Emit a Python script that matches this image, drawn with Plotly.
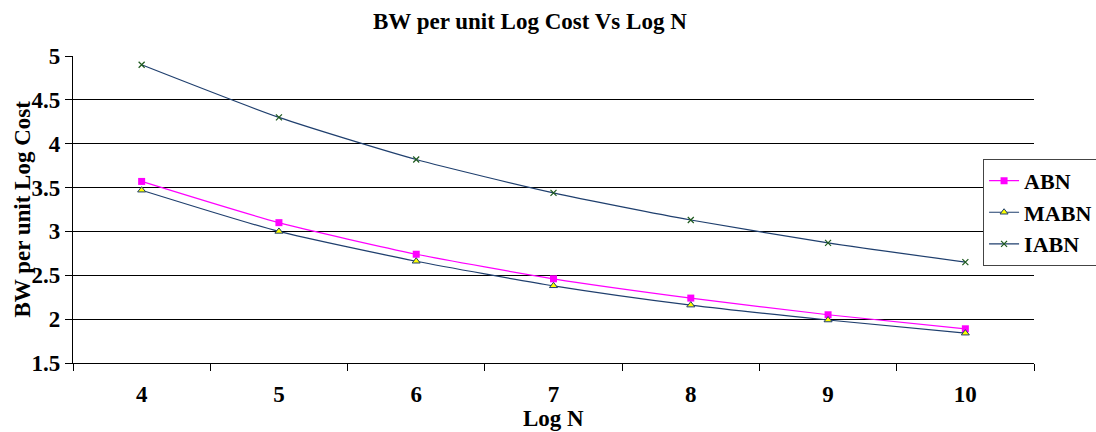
import plotly.graph_objects as go

log_n = [4, 5, 6, 7, 8, 9, 10]
abn = [3.57, 3.10, 2.74, 2.46, 2.24, 2.05, 1.89]
mabn = [3.47, 3.00, 2.66, 2.38, 2.16, 1.99, 1.84]
iabn = [4.90, 4.30, 3.82, 3.44, 3.13, 2.87, 2.65]
y_ticks = [1.5, 2, 2.5, 3, 3.5, 4, 4.5, 5]
y_tick_text = ["1.5", "2", "2.5", "3", "3.5", "4", "4.5", "5"]

FONT = "Liberation Serif, Times New Roman, serif"
NAVY = "#1F3F6E"
FS = 23

fig = go.Figure()
fig.add_trace(go.Scatter(
    x=log_n, y=abn, name="ABN", mode="lines+markers",
    line=dict(color="#FF00FF", width=1.2, shape="spline", smoothing=0.6),
    marker=dict(symbol="square", size=7, color="#FF00FF"),
))
fig.add_trace(go.Scatter(
    x=log_n, y=mabn, name="MABN", mode="lines+markers",
    line=dict(color=NAVY, width=1.2, shape="spline", smoothing=0.6),
    marker=dict(symbol="triangle-up", size=7, color="#FFFF00",
                line=dict(color=NAVY, width=1)),
))
fig.add_trace(go.Scatter(
    x=log_n, y=iabn, name="IABN", mode="lines+markers",
    line=dict(color=NAVY, width=1.2, shape="spline", smoothing=0.6),
    marker=dict(symbol="x-thin", size=6, color="#1E5A1E",
                line=dict(color="#1E5A1E", width=1.2)),
))

fig.update_layout(
    width=1096, height=432,
    margin=dict(l=73, r=62, t=56, b=69, autoexpand=False),
    paper_bgcolor="white", plot_bgcolor="white",
    font=dict(family=FONT, color="black"),
    showlegend=True,
    legend=dict(
        x=0.947, y=0.665, xanchor="left", yanchor="top",
        bordercolor="#444444", borderwidth=1, bgcolor="white",
        font=dict(family=FONT, size=22, color="black", weight="bold"),
        tracegroupgap=0, itemwidth=30,
    ),
    annotations=[
        dict(text="<b>BW per unit Log Cost Vs Log N</b>", xref="paper", yref="paper",
             x=0.4755, y=1, yanchor="middle", yshift=35, showarrow=False,
             font=dict(family=FONT, size=FS, color="black")),
        dict(text="<b>Log N</b>", xref="paper", yref="paper",
             x=0.5, y=0, yanchor="middle", yshift=-55, showarrow=False,
             font=dict(family=FONT, size=FS, color="black")),
        dict(text="<b>BW per unit Log Cost</b>", xref="paper", yref="paper",
             x=0, xanchor="center", xshift=-51, y=0.5, yanchor="middle",
             textangle=-90, showarrow=False,
             font=dict(family=FONT, size=FS, color="black")),
    ],
)

fig.update_xaxes(
    range=[3.5, 10.5], tickvals=log_n, ticktext=[str(v) for v in log_n],
    ticks="outside", ticklen=10, tickcolor="rgba(0,0,0,0)",
    tickfont=dict(family=FONT, size=FS, color="black", weight="bold"),
    showgrid=False, zeroline=False,
    showline=True, linecolor="black", linewidth=1.2,
    minor=dict(tickvals=[3.5, 4.5, 5.5, 6.5, 7.5, 8.5, 9.5, 10.5],
               ticks="outside", ticklen=7, tickcolor="black", tickwidth=1.2,
               showgrid=False),
)
fig.update_yaxes(
    range=[1.5, 5], tickvals=y_ticks, ticktext=y_tick_text,
    ticks="outside", ticklen=7, tickcolor="black", tickwidth=1.2,
    tickfont=dict(family=FONT, size=FS, color="black", weight="bold"),
    showgrid=True, gridcolor="black", gridwidth=1,
    zeroline=False, showline=True, linecolor="black", linewidth=1.2,
)

fig.write_html("out.html")
